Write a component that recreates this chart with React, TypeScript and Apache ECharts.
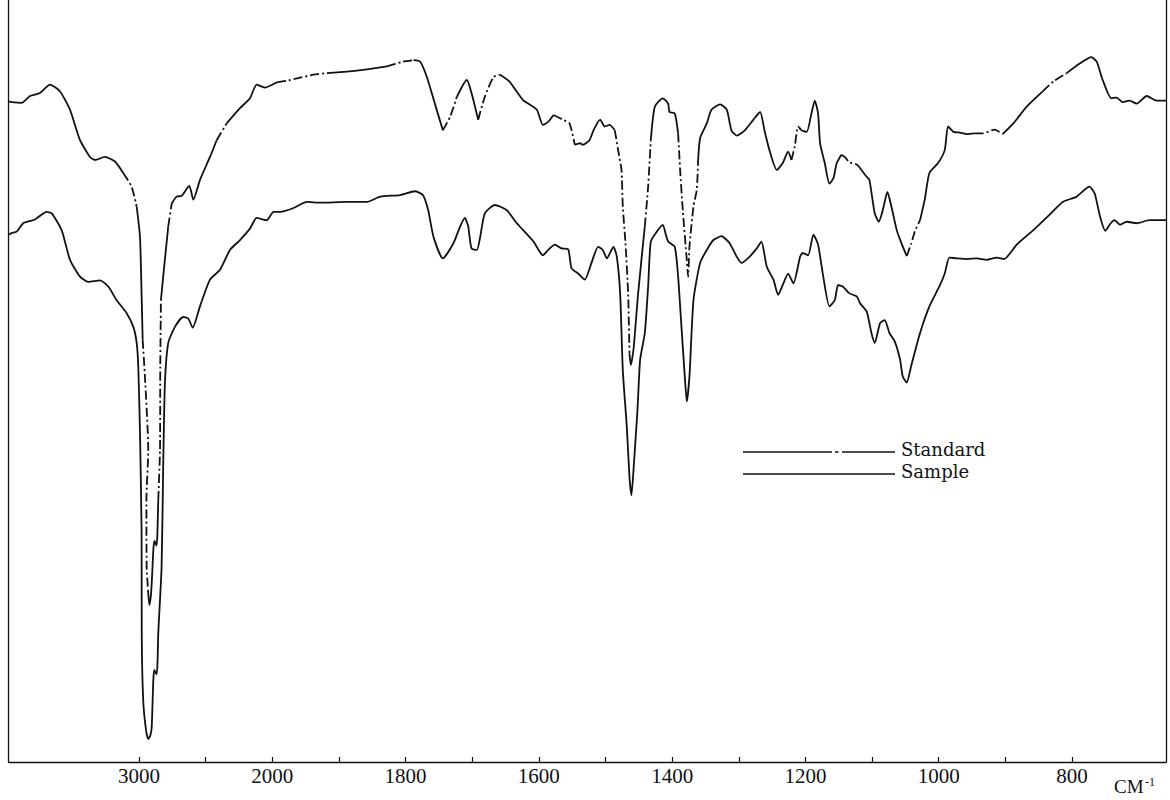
import React, { useEffect, useRef } from "react";
import * as echarts from "echarts";

// Wavenumber axis (cm-1): 3977 .. 659, scale changes at 2000 cm-1
const AXIS_MIN_WN = 3977;
const AXIS_MAX_WN = 659;
const TICK_WN = [3000, 2500, 2000, 1900, 1800, 1700, 1600, 1500, 1400, 1300, 1200, 1100, 1000, 900, 800];
const LABEL_WN = [3000, 2000, 1800, 1600, 1400, 1200, 1000, 800];

// [wavenumber, %T]
const standard: [number, number][] = [
  [3977, 86.7], [3955, 86.6], [3880, 86.5], [3817, 87.4], [3742, 87.8], [3667, 88.9], [3592, 88.0],
  [3517, 85.6], [3442, 81.6], [3367, 79.4], [3330, 79.0], [3255, 79.4], [3180, 78.8], [3118, 77.3],
  [3055, 75.5], [3017, 72.9], [2992, 68.9], [2980, 61.3], [2972, 55.4], [2955, 50.6], [2930, 40.9],
  [2944, 34.4], [2942, 25.6], [2932, 22.6], [2922, 20.6], [2910, 21.9], [2901, 24.5], [2891, 28.1],
  [2883, 29.0], [2868, 28.4], [2862, 29.7], [2855, 34.4], [2842, 40.9], [2840, 51.9], [2835, 60.6],
  [2818, 63.7], [2780, 70.3], [2754, 73.3], [2717, 74.2], [2680, 74.3], [2622, 75.6], [2592, 73.8],
  [2542, 76.4], [2467, 79.4], [2417, 81.6], [2342, 83.8], [2242, 85.8], [2167, 87.1], [2117, 88.9],
  [2055, 88.5], [1993, 89.2], [1978, 89.4], [1963, 89.7], [1938, 90.2], [1918, 90.4], [1888, 90.6],
  [1858, 90.9], [1828, 91.3], [1804, 91.9], [1788, 92.1], [1778, 91.9], [1768, 89.9], [1756, 86.4],
  [1744, 82.9], [1733, 84.7], [1723, 87.3], [1708, 89.5], [1701, 87.8], [1691, 84.3], [1681, 87.3],
  [1668, 89.9], [1658, 90.2], [1644, 89.3], [1624, 86.9], [1603, 85.6], [1594, 83.6], [1586, 84.0],
  [1578, 84.9], [1564, 84.3], [1554, 83.8], [1546, 81.0], [1538, 81.2], [1534, 81.0], [1524, 81.6],
  [1518, 82.9], [1508, 84.3], [1501, 83.4], [1494, 83.6], [1486, 82.9], [1481, 80.3], [1476, 77.7],
  [1474, 72.9], [1470, 68.1], [1466, 61.5], [1464, 53.6], [1462, 52.1], [1458, 54.1], [1451, 61.5],
  [1441, 70.3], [1436, 75.5], [1432, 81.6], [1426, 86.0], [1414, 87.1], [1406, 86.4], [1404, 85.3],
  [1396, 85.1], [1391, 82.5], [1388, 77.7], [1384, 72.4], [1378, 65.9], [1376, 63.7], [1374, 67.6],
  [1368, 72.9], [1363, 75.1], [1361, 79.0], [1358, 81.9], [1348, 83.8], [1341, 85.6], [1328, 86.3],
  [1318, 85.6], [1311, 82.9], [1303, 82.2], [1291, 82.9], [1278, 84.3], [1268, 85.3], [1261, 82.7],
  [1254, 80.3], [1243, 77.7], [1234, 78.6], [1226, 80.1], [1221, 79.0], [1216, 80.8], [1211, 83.4],
  [1206, 82.9], [1198, 82.7], [1191, 85.1], [1186, 86.8], [1181, 85.1], [1178, 81.2], [1171, 78.6],
  [1164, 75.9], [1158, 76.6], [1153, 78.6], [1146, 79.7], [1141, 79.4], [1134, 78.7], [1123, 78.4],
  [1116, 77.7], [1108, 76.8], [1104, 76.4], [1096, 72.0], [1090, 70.9], [1084, 72.4], [1077, 74.8],
  [1071, 72.9], [1063, 69.8], [1056, 68.1], [1048, 66.4], [1041, 68.1], [1036, 69.6], [1028, 71.1],
  [1021, 73.8], [1014, 77.3], [1001, 78.6], [991, 80.3], [986, 83.4], [978, 82.7], [968, 82.6],
  [958, 82.4], [946, 82.5], [934, 82.5], [916, 83.0], [904, 82.4], [888, 83.8], [868, 86.0],
  [844, 88.0], [828, 89.3], [808, 90.4], [788, 91.7], [771, 92.5], [763, 91.9], [754, 89.5],
  [741, 87.1], [733, 87.2], [724, 86.6], [714, 86.8], [703, 86.4], [688, 87.4], [673, 86.8], [659, 86.8],
];

const sample: [number, number][] = [
  [3977, 69.2], [3955, 69.4], [3917, 69.6], [3868, 70.7], [3817, 71.0], [3780, 71.2], [3692, 72.2],
  [3654, 72.0], [3580, 69.8], [3517, 65.9], [3442, 63.7], [3380, 63.0], [3292, 63.2], [3230, 62.4],
  [3167, 60.6], [3092, 58.9], [3042, 57.1], [3017, 55.0], [3005, 51.9], [2992, 43.2], [2980, 30.1],
  [2979, 16.9], [2968, 8.1], [2947, 4.2], [2930, 3.0], [2914, 3.5], [2904, 4.6], [2892, 10.8],
  [2885, 12.1], [2867, 11.5], [2860, 13.4], [2855, 16.9], [2830, 25.6], [2818, 38.8], [2805, 49.7],
  [2780, 55.0], [2730, 57.1], [2668, 58.4], [2630, 58.2], [2597, 57.0], [2542, 59.8], [2467, 63.3],
  [2392, 64.6], [2317, 67.2], [2242, 68.5], [2167, 70.0], [2117, 71.4], [2042, 71.1], [1998, 72.2],
  [1988, 72.2], [1968, 72.7], [1948, 73.5], [1928, 73.4], [1888, 73.5], [1858, 73.5], [1838, 74.2],
  [1808, 74.4], [1786, 74.9], [1774, 74.4], [1766, 72.4], [1758, 68.9], [1744, 66.1], [1728, 68.1],
  [1718, 70.3], [1711, 71.4], [1706, 70.3], [1701, 67.4], [1693, 67.2], [1688, 68.9], [1681, 72.0],
  [1666, 73.1], [1648, 72.4], [1633, 70.7], [1608, 68.3], [1594, 66.5], [1586, 67.2], [1576, 67.9],
  [1566, 67.4], [1556, 67.3], [1551, 64.8], [1541, 64.1], [1531, 63.3], [1521, 65.5], [1511, 67.6],
  [1504, 67.2], [1498, 66.1], [1488, 67.6], [1483, 66.3], [1478, 61.5], [1474, 51.4], [1468, 44.0],
  [1464, 37.4], [1461, 35.0], [1457, 39.6], [1452, 46.2], [1448, 52.8], [1441, 56.3], [1436, 62.4],
  [1432, 68.3], [1423, 69.6], [1414, 70.5], [1410, 69.4], [1406, 68.3], [1396, 67.6], [1391, 63.7],
  [1386, 57.1], [1381, 50.6], [1378, 47.3], [1374, 50.6], [1368, 60.6], [1358, 65.5], [1348, 67.2],
  [1338, 68.5], [1326, 69.0], [1314, 68.1], [1303, 66.3], [1296, 65.5], [1284, 66.3], [1273, 67.4],
  [1266, 68.3], [1258, 65.0], [1248, 63.3], [1241, 61.3], [1234, 62.6], [1226, 64.1], [1218, 62.8],
  [1208, 66.3], [1204, 66.8], [1196, 66.5], [1188, 69.2], [1181, 67.9], [1174, 64.1], [1164, 59.8],
  [1156, 60.6], [1151, 62.6], [1144, 62.4], [1134, 61.5], [1123, 61.1], [1118, 60.2], [1108, 59.1],
  [1101, 56.3], [1096, 55.0], [1088, 57.6], [1081, 58.0], [1074, 56.3], [1066, 55.2], [1058, 52.8],
  [1054, 50.6], [1048, 49.8], [1041, 52.1], [1028, 56.3], [1014, 59.8], [998, 62.6], [991, 64.1],
  [984, 66.2], [973, 66.1], [958, 66.0], [943, 66.1], [928, 65.9], [913, 66.2], [902, 66.0],
  [883, 67.9], [858, 69.8], [834, 71.8], [814, 73.5], [793, 74.2], [774, 75.5], [766, 74.6],
  [758, 71.6], [750, 69.7], [742, 70.7], [736, 71.1], [728, 70.5], [718, 70.9], [703, 70.7],
  [684, 71.1], [659, 71.1],
];

// wavenumber ranges [high, low] where the Standard trace is drawn dash-dot
const standardDashRanges: [number, number][] = [
  [3130, 3010], [2975, 2936], [2858, 2836], [2790, 2750], [2430, 2330], [1995, 1925], [1830, 1795],
  [1748, 1725], [1690, 1660], [1580, 1550], [1484, 1464], [1445, 1430], [1392, 1360], [1222, 1205],
  [1145, 1118], [1050, 1025], [950, 900], [850, 800],
];

const toU = (wn: number) => (wn >= 2000 ? (2000 - wn) / 500 : (2000 - wn) / 100);
const fromU = (u: number) => (u < 0 ? 2000 - 500 * u : 2000 - 100 * u);

function splitRuns(points: [number, number][], ranges: [number, number][]) {
  const isDash = (a: [number, number], b: [number, number]) => {
    const m = (a[0] + b[0]) / 2;
    return ranges.some(([hi, lo]) => m <= hi && m >= lo);
  };
  const solid: any[] = [];
  const dashed: any[] = [];
  let cur: [number, number][] | null = null;
  let curType: boolean | null = null;
  const flush = () => {
    if (!cur) return;
    const target = curType ? dashed : solid;
    cur.forEach((p) => target.push([toU(p[0]), p[1]]));
    target.push([toU(cur[cur.length - 1][0]), "-"]);
  };
  for (let i = 0; i < points.length - 1; i++) {
    const t = isDash(points[i], points[i + 1]);
    if (t !== curType) {
      flush();
      cur = [points[i]];
      curType = t;
    }
    cur!.push(points[i + 1]);
  }
  flush();
  return { solid, dashed };
}

export default function App() {
  const ref = useRef<HTMLDivElement>(null);
  useEffect(() => {
    if (!ref.current) return;
    const chart = echarts.init(ref.current, undefined, { renderer: "svg" });
    const std = splitRuns(standard, standardDashRanges);
    const lineCommon = {
      type: "line",
      showSymbol: false,
      symbol: "none",
      smooth: 0.2,
      silent: true,
      connectNulls: false,
    };
    const stroke = "#111";
    const yCommon = {
      type: "value",
      min: 0,
      max: 100,
      axisLine: { show: true, onZero: false, lineStyle: { color: stroke, width: 1.3 } },
      axisTick: { show: false },
      axisLabel: { show: false },
      splitLine: { show: false },
    };
    const legendText = (text: string, y: number) => ({
      type: "text",
      x: 901,
      y,
      style: {
        text,
        fontFamily: "DejaVu Serif",
        fontSize: 18,
        lineHeight: 18,
        fill: stroke,
        verticalAlign: "middle",
      },
    });
    chart.setOption({
      animation: false,
      backgroundColor: "#fff",
      grid: { left: 8.7, right: 4, top: 0, bottom: 38, containLabel: false, outerBoundsMode: "none" },
      xAxis: {
        type: "value",
        min: toU(AXIS_MIN_WN),
        max: toU(AXIS_MAX_WN),
        axisLine: { show: true, onZero: false, lineStyle: { color: stroke, width: 1.3 } },
        axisTick: {
          show: true,
          inside: true,
          length: 5,
          customValues: TICK_WN.map(toU),
          lineStyle: { color: stroke, width: 1.2 },
        },
        axisLabel: {
          show: true,
          customValues: LABEL_WN.map(toU),
          formatter: (v: number) => String(Math.round(fromU(v))),
          fontFamily: "Liberation Serif",
          fontSize: 21,
          color: stroke,
          margin: 3,
        },
        splitLine: { show: false },
      },
      yAxis: [
        { ...yCommon, position: "left" },
        { ...yCommon, position: "right" },
      ],
      series: [
        { ...lineCommon, name: "Standard", data: std.solid, lineStyle: { color: stroke, width: 1.8 } },
        {
          ...lineCommon,
          name: "Standard dash",
          data: std.dashed,
          lineStyle: { color: stroke, width: 1.8, type: [9, 3, 2, 3] },
        },
        {
          ...lineCommon,
          name: "Sample",
          data: sample.map((p) => [toU(p[0]), p[1]]),
          lineStyle: { color: stroke, width: 1.8 },
        },
      ],
      graphic: [
        { type: "line", shape: { x1: 743, y1: 452, x2: 832, y2: 452 }, style: { stroke, lineWidth: 1.5 } },
        { type: "line", shape: { x1: 835, y1: 452, x2: 838.5, y2: 452 }, style: { stroke, lineWidth: 1.5 } },
        { type: "line", shape: { x1: 842, y1: 452, x2: 895, y2: 452 }, style: { stroke, lineWidth: 1.5 } },
        legendText("Standard", 449),
        { type: "line", shape: { x1: 743, y1: 474, x2: 895, y2: 474 }, style: { stroke, lineWidth: 1.5 } },
        legendText("Sample", 471),
        {
          type: "text",
          x: 1114,
          y: 786,
          style: { text: "CM", fontFamily: "Liberation Serif", fontSize: 19, fill: stroke, verticalAlign: "middle" },
        },
        {
          type: "text",
          x: 1145,
          y: 782,
          style: { text: "-1", fontFamily: "Liberation Serif", fontSize: 12, fill: stroke, verticalAlign: "middle" },
        },
      ],
    });
    return () => chart.dispose();
  }, []);
  return (
    <div
      ref={ref}
      style={{ position: "absolute", left: 0, top: 0, width: 1170, height: 800, background: "#fff" }}
    />
  );
}
